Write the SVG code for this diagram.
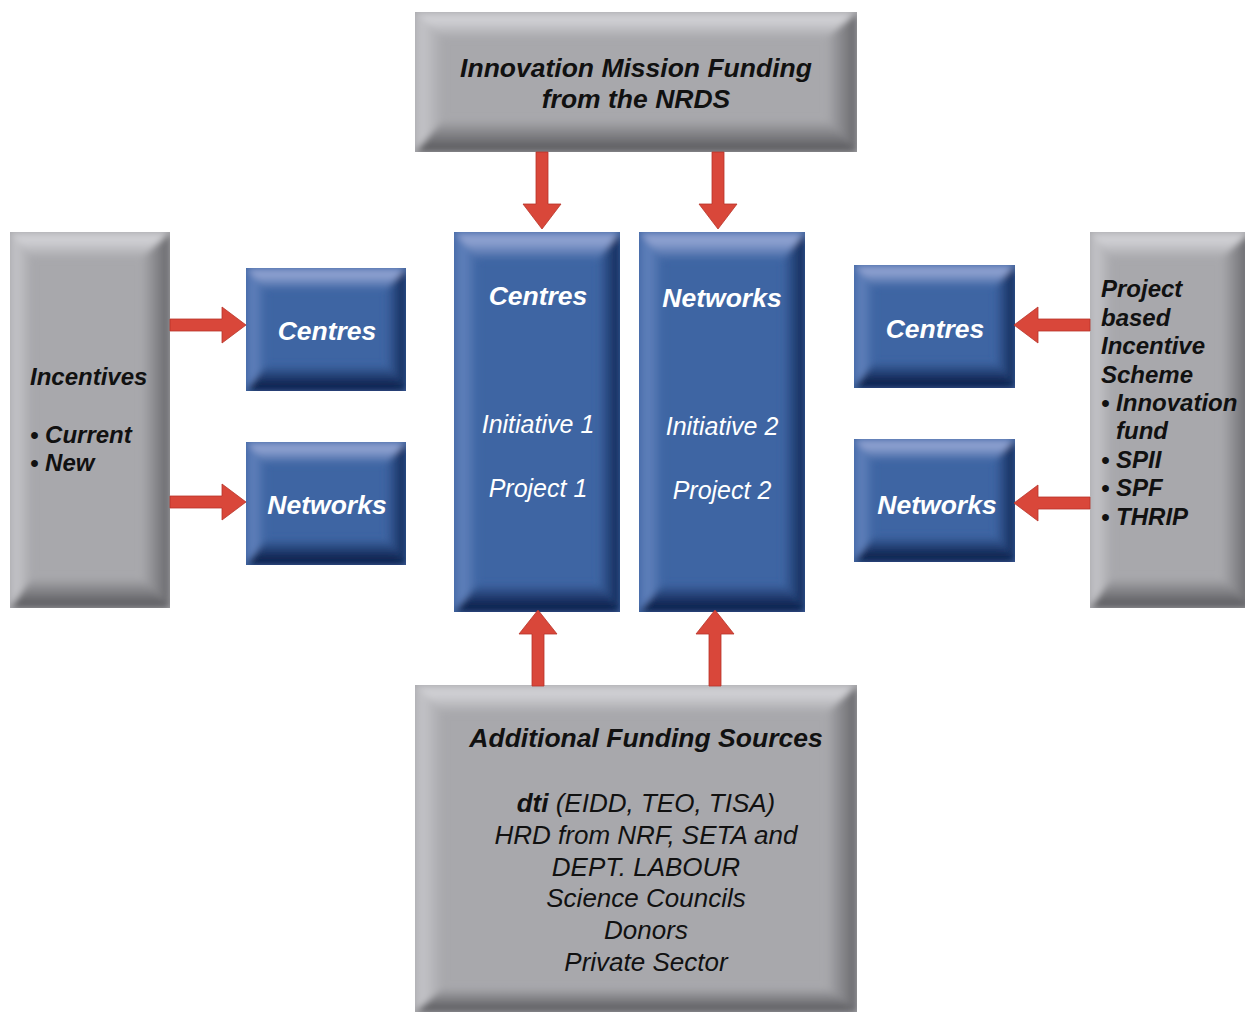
<svg xmlns="http://www.w3.org/2000/svg" width="1245" height="1012" viewBox="0 0 1245 1012">
<defs>
<style>
.gface{fill:#a8a8ac}
.gt{fill:url(#gTop)}
.gb{fill:url(#gBot)}
.gl{fill:url(#gLeft)}
.gr{fill:url(#gRight)}
.bface{fill:#3e65a3}
.bt{fill:url(#bTop)}
.bb{fill:url(#bBot)}
.bl{fill:url(#bLeft)}
.br{fill:url(#bRight)}
.bev{filter:url(#soft)}
.box{clip-path:url(#clipBox)}
.arrow{fill:#d9473a;stroke:#b83428;stroke-width:0.8}
text{font-family:"Liberation Sans",Arial,Helvetica,sans-serif;font-style:italic}
.b{font-weight:bold}
.dk{fill:#111}
.wh{fill:#fff}
.s26{font-size:26.5px}
.s24{font-size:24px}
.s25{font-size:25px}
.r26{font-size:26px}
</style>
<clipPath id="clipBox" clipPathUnits="objectBoundingBox"><rect x="0" y="0" width="1" height="1"/></clipPath>
<filter id="soft" x="-10%" y="-10%" width="120%" height="120%"><feGaussianBlur stdDeviation="3"/></filter>
<linearGradient id="gTop" x1="0" y1="0" x2="0" y2="1"><stop offset="0" stop-color="#c4c4c8"/><stop offset="0.3" stop-color="#d2d2d6"/><stop offset="1" stop-color="#a8a8ac"/></linearGradient>
<linearGradient id="gBot" x1="0" y1="0" x2="0" y2="1"><stop offset="0" stop-color="#a8a8ac"/><stop offset="0.8" stop-color="#646468"/><stop offset="1" stop-color="#58585c"/></linearGradient>
<linearGradient id="gLeft" x1="0" y1="0" x2="1" y2="0"><stop offset="0" stop-color="#bcbcc0"/><stop offset="0.3" stop-color="#c2c2c6"/><stop offset="1" stop-color="#a8a8ac"/></linearGradient>
<linearGradient id="gRight" x1="0" y1="0" x2="1" y2="0"><stop offset="0" stop-color="#a8a8ac"/><stop offset="1" stop-color="#66666a"/></linearGradient>
<linearGradient id="bTop" x1="0" y1="0" x2="0" y2="1"><stop offset="0" stop-color="#7a90c4"/><stop offset="0.3" stop-color="#93a5d3"/><stop offset="1" stop-color="#3e65a3"/></linearGradient>
<linearGradient id="bBot" x1="0" y1="0" x2="0" y2="1"><stop offset="0" stop-color="#3e65a3"/><stop offset="0.7" stop-color="#122856"/><stop offset="1" stop-color="#0c2049"/></linearGradient>
<linearGradient id="bLeft" x1="0" y1="0" x2="1" y2="0"><stop offset="0" stop-color="#5072b0"/><stop offset="0.4" stop-color="#5f80ba"/><stop offset="1" stop-color="#3e65a3"/></linearGradient>
<linearGradient id="bRight" x1="0" y1="0" x2="1" y2="0"><stop offset="0" stop-color="#3e65a3"/><stop offset="1" stop-color="#0f2654"/></linearGradient>
</defs>
<rect width="1245" height="1012" fill="#ffffff"/>

<g id="node-top">
<g class="box">
<rect class="gface" x="415" y="12" width="442" height="140"/>
<g class="bev">
<polygon class="gt" points="415,12 857,12 827,38 443,38"/>
<polygon class="gb" points="415,152 857,152 827,120 443,120"/>
<polygon class="gl" points="415,12 443,38 443,120 415,152"/>
<polygon class="gr" points="857,12 827,38 827,120 857,152"/>
</g>
</g>
<text class="b dk s26" x="636" y="77" text-anchor="middle">Innovation Mission Funding</text>
<text class="b dk s26" x="636" y="108" text-anchor="middle">from the NRDS</text>
</g>

<g id="node-bottom">
<g class="box">
<rect class="gface" x="415" y="685" width="442" height="327"/>
<g class="bev">
<polygon class="gt" points="415,685 857,685 827,713 443,713"/>
<polygon class="gb" points="415,1012 857,1012 827,988 443,988"/>
<polygon class="gl" points="415,685 443,713 443,988 415,1012"/>
<polygon class="gr" points="857,685 827,713 827,988 857,1012"/>
</g>
</g>
<text class="b dk s26" x="646" y="747" text-anchor="middle">Additional Funding Sources</text>
<text class="dk r26" x="646" y="812" text-anchor="middle"><tspan class="b">dti</tspan> (EIDD, TEO, TISA)</text>
<text class="dk r26" x="646" y="844" text-anchor="middle">HRD from NRF, SETA and</text>
<text class="dk r26" x="646" y="876" text-anchor="middle">DEPT. LABOUR</text>
<text class="dk r26" x="646" y="907" text-anchor="middle">Science Councils</text>
<text class="dk r26" x="646" y="939" text-anchor="middle">Donors</text>
<text class="dk r26" x="646" y="971" text-anchor="middle">Private Sector</text>
</g>

<g id="node-incentives">
<g class="box">
<rect class="gface" x="10" y="232" width="160" height="376"/>
<g class="bev">
<polygon class="gt" points="10,232 170,232 142,258 32,258"/>
<polygon class="gb" points="10,608 170,608 142,578 32,578"/>
<polygon class="gl" points="10,232 32,258 32,578 10,608"/>
<polygon class="gr" points="170,232 142,258 142,578 170,608"/>
</g>
</g>
<text class="b dk s24" x="30" y="385">Incentives</text>
<text class="b dk s24" x="30" y="443">• Current</text>
<text class="b dk s24" x="30" y="471">• New</text>
</g>

<g id="node-project-scheme">
<g class="box">
<rect class="gface" x="1090" y="232" width="160" height="376"/>
<g class="bev">
<polygon class="gt" points="1090,232 1250,232 1222,258 1112,258"/>
<polygon class="gb" points="1090,608 1250,608 1222,578 1112,578"/>
<polygon class="gl" points="1090,232 1112,258 1112,578 1090,608"/>
<polygon class="gr" points="1250,232 1222,258 1222,578 1250,608"/>
</g>
</g>
<text class="b dk s24" x="1101" y="297">Project</text>
<text class="b dk s24" x="1101" y="326">based</text>
<text class="b dk s24" x="1101" y="354">Incentive</text>
<text class="b dk s24" x="1101" y="383">Scheme</text>
<text class="b dk s24" x="1101" y="411">• Innovation</text>
<text class="b dk s24" x="1116" y="439">fund</text>
<text class="b dk s24" x="1101" y="468">• SPII</text>
<text class="b dk s24" x="1101" y="496">• SPF</text>
<text class="b dk s24" x="1101" y="525">• THRIP</text>
</g>

<g id="node-left-centres">
<g class="box">
<rect class="bface" x="246" y="268" width="160" height="123"/>
<g class="bev">
<polygon class="bt" points="246,268 406,268 386,290 266,290"/>
<polygon class="bb" points="246,391 406,391 386,365 266,365"/>
<polygon class="bl" points="246,268 266,290 266,365 246,391"/>
<polygon class="br" points="406,268 386,290 386,365 406,391"/>
</g>
</g>
<text class="b wh s26" x="327" y="340" text-anchor="middle">Centres</text>
</g>

<g id="node-left-networks">
<g class="box">
<rect class="bface" x="246" y="442" width="160" height="123"/>
<g class="bev">
<polygon class="bt" points="246,442 406,442 386,464 266,464"/>
<polygon class="bb" points="246,565 406,565 386,539 266,539"/>
<polygon class="bl" points="246,442 266,464 266,539 246,565"/>
<polygon class="br" points="406,442 386,464 386,539 406,565"/>
</g>
</g>
<text class="b wh s26" x="327" y="514" text-anchor="middle">Networks</text>
</g>

<g id="node-right-centres">
<g class="box">
<rect class="bface" x="854" y="265" width="161" height="123"/>
<g class="bev">
<polygon class="bt" points="854,265 1015,265 995,287 874,287"/>
<polygon class="bb" points="854,388 1015,388 995,362 874,362"/>
<polygon class="bl" points="854,265 874,287 874,362 854,388"/>
<polygon class="br" points="1015,265 995,287 995,362 1015,388"/>
</g>
</g>
<text class="b wh s26" x="935" y="338" text-anchor="middle">Centres</text>
</g>

<g id="node-right-networks">
<g class="box">
<rect class="bface" x="854" y="439" width="161" height="123"/>
<g class="bev">
<polygon class="bt" points="854,439 1015,439 995,461 874,461"/>
<polygon class="bb" points="854,562 1015,562 995,536 874,536"/>
<polygon class="bl" points="854,439 874,461 874,536 854,562"/>
<polygon class="br" points="1015,439 995,461 995,536 1015,562"/>
</g>
</g>
<text class="b wh s26" x="937" y="514" text-anchor="middle">Networks</text>
</g>

<g id="node-col-centres">
<g class="box">
<rect class="bface" x="454" y="232" width="166" height="380"/>
<g class="bev">
<polygon class="bt" points="454,232 620,232 598,260 478,260"/>
<polygon class="bb" points="454,612 620,612 598,584 478,584"/>
<polygon class="bl" points="454,232 478,260 478,584 454,612"/>
<polygon class="br" points="620,232 598,260 598,584 620,612"/>
</g>
</g>
<text class="b wh s26" x="538" y="305" text-anchor="middle">Centres</text>
<text class="wh s25" x="538" y="433" text-anchor="middle">Initiative 1</text>
<text class="wh s25" x="538" y="497" text-anchor="middle">Project 1</text>
</g>

<g id="node-col-networks">
<g class="box">
<rect class="bface" x="639" y="232" width="166" height="380"/>
<g class="bev">
<polygon class="bt" points="639,232 805,232 783,260 663,260"/>
<polygon class="bb" points="639,612 805,612 783,584 663,584"/>
<polygon class="bl" points="639,232 663,260 663,584 639,612"/>
<polygon class="br" points="805,232 783,260 783,584 805,612"/>
</g>
</g>
<text class="b wh s26" x="722" y="307" text-anchor="middle">Networks</text>
<text class="wh s25" x="722" y="435" text-anchor="middle">Initiative 2</text>
<text class="wh s25" x="722" y="499" text-anchor="middle">Project 2</text>
</g>

<g id="connectors">
<polygon class="arrow" points="536,152 548,152 548,204 561,204 542,229 523,204 536,204"/>
<polygon class="arrow" points="712,152 724,152 724,204 737,204 718,229 699,204 712,204"/>
<polygon class="arrow" points="532,686 544,686 544,634 557,634 538,610 519,634 532,634"/>
<polygon class="arrow" points="709,686 721,686 721,634 734,634 715,610 696,634 709,634"/>
<polygon class="arrow" points="170,319 222,319 222,307 246,325 222,343 222,331 170,331"/>
<polygon class="arrow" points="170,496 222,496 222,484 246,502 222,520 222,508 170,508"/>
<polygon class="arrow" points="1090,319 1038,319 1038,307 1014,325 1038,343 1038,331 1090,331"/>
<polygon class="arrow" points="1090,497 1038,497 1038,485 1014,503 1038,521 1038,509 1090,509"/>
</g>
</svg>
